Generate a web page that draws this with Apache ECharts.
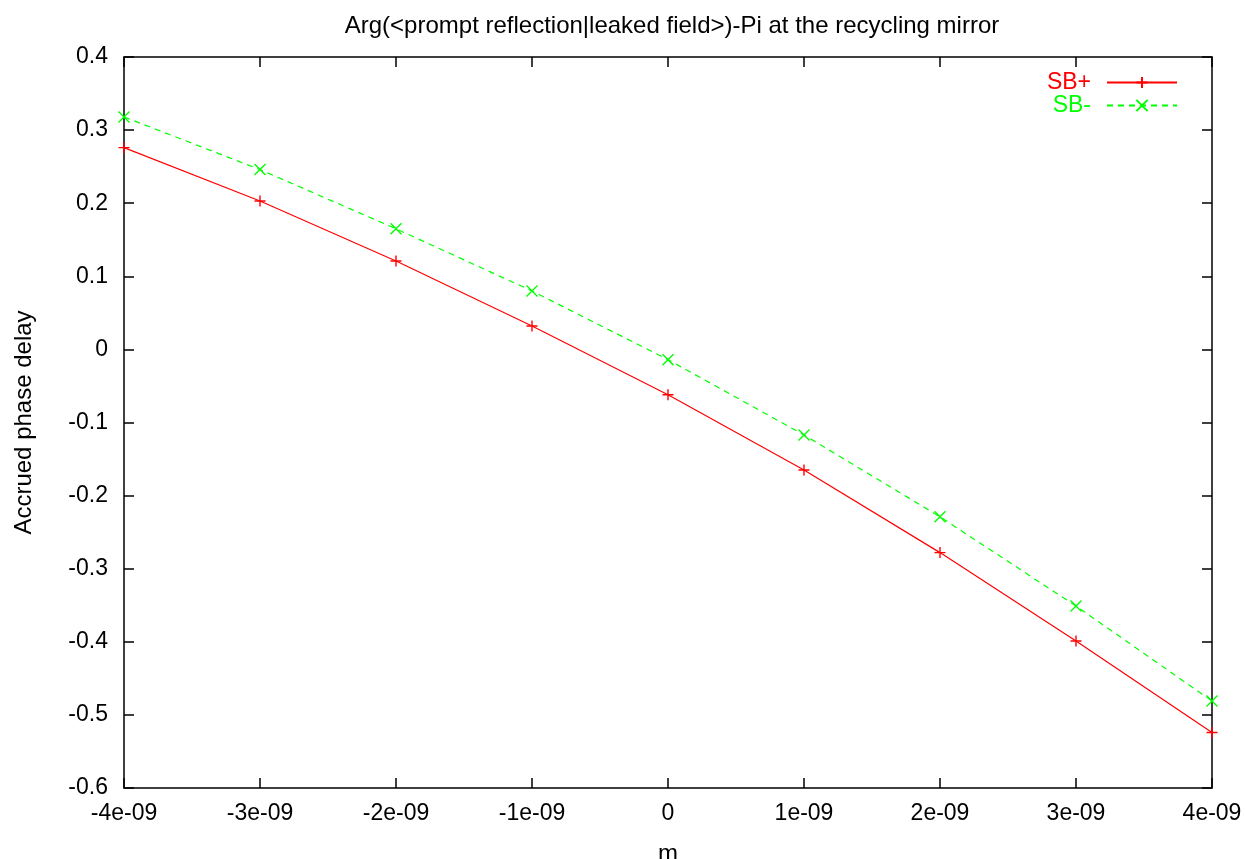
<!DOCTYPE html>
<html>
<head>
<meta charset="utf-8">
<script src="https://cdn.jsdelivr.net/npm/echarts@6/dist/echarts.min.js"></script>
<style>
html,body{margin:0;padding:0;background:#fff;}
#chart{width:1245px;height:859px;}
</style>
</head>
<body>
<div id="chart"></div>
<script>
// x positions (m) and accrued phase for each sideband
var mValues = [-4e-9, -3e-9, -2e-9, -1e-9, 0, 1e-9, 2e-9, 3e-9, 4e-9];
var sbPlus  = [0.276, 0.203, 0.121, 0.032, -0.062, -0.165, -0.278, -0.399, -0.524];
var sbMinus = [0.318, 0.246, 0.165, 0.080, -0.014, -0.117, -0.229, -0.351, -0.481];
var seriesNames = ['SB+', 'SB-'];
var seriesColors = ['#ff0000', '#00ff00'];

var FONT = "'Liberation Sans', Arial, sans-serif";
var plusIcon = 'path://M0,5L10,5M5,0L5,10';
var crossIcon = 'path://M0,0L10,10M0,10L10,0';

function pairs(xs, ys) {
	var out = [];
	for (var i = 0; i < xs.length; i++) out.push([xs[i], ys[i]]);
	return out;
}
function fmtX(v) {
	var n = Math.round(v * 1e9);
	if (n === 0) return '0';
	return n + 'e-09';
}
function fmtY(v) {
	var r = Math.round(v * 10) / 10;
	return r === 0 ? '0' : String(r);
}

var axisLine = { show: true, onZero: false, lineStyle: { color: '#000', width: 1.5 } };
var tick = { show: true, inside: true, length: 10, lineStyle: { color: '#000', width: 1.5 } };

var myChart = echarts.init(document.getElementById('chart'));
var option = {
	animation: false,
	backgroundColor: '#fff',
	title: {
		text: 'Arg(<prompt reflection|leaked field>)-Pi at the recycling mirror',
		left: 667,
		textAlign: 'center',
		top: 9,
		textStyle: { fontFamily: FONT, fontSize: 24, fontWeight: 'normal', color: '#000' }
	},
	legend: {
		orient: 'vertical',
		right: 62,
		top: 66,
		align: 'right',
		itemWidth: 70,
		itemHeight: 14,
		itemGap: 0,
		data: [
			{ name: seriesNames[0], textStyle: { color: seriesColors[0] } },
			{ name: seriesNames[1], textStyle: { color: seriesColors[1] } }
		],
		textStyle: { fontFamily: FONT, fontSize: 23, lineHeight: 22, padding: [0, 11, 0, 0] }
	},
	grid: { left: 124, right: 33, top: 57, bottom: 71, outerBoundsMode: 'none', containLabel: false },
	xAxis: [{
		type: 'value',
		min: -4e-9, max: 4e-9, interval: 1e-9,
		name: 'm', nameLocation: 'middle', nameGap: 54,
		nameTextStyle: { fontFamily: FONT, fontSize: 24, color: '#000' },
		axisLine: axisLine, axisTick: tick,
		splitLine: { show: false },
		axisLabel: { fontFamily: FONT, fontSize: 23, color: '#000', margin: 14, formatter: fmtX }
	}, {
		type: 'value', position: 'top',
		min: -4e-9, max: 4e-9, interval: 1e-9,
		axisLine: axisLine, axisTick: tick,
		splitLine: { show: false }, axisLabel: { show: false }
	}],
	yAxis: [{
		type: 'value',
		min: -0.6, max: 0.4, interval: 0.1,
		name: 'Accrued phase delay', nameLocation: 'middle', nameGap: 88,
		nameTextStyle: { fontFamily: FONT, fontSize: 24, color: '#000' },
		axisLine: axisLine, axisTick: tick,
		splitLine: { show: false },
		axisLabel: { fontFamily: FONT, fontSize: 23, color: '#000', margin: 16, formatter: fmtY }
	}, {
		type: 'value', position: 'right',
		min: -0.6, max: 0.4, interval: 0.1,
		axisLine: axisLine, axisTick: tick,
		splitLine: { show: false }, axisLabel: { show: false }
	}],
	series: [{
		name: seriesNames[0],
		type: 'line',
		xAxisIndex: 0, yAxisIndex: 0,
		data: pairs(mValues, sbPlus),
		color: seriesColors[0],
		symbol: plusIcon,
		symbolSize: 11,
		showAllSymbol: true,
		lineStyle: { color: seriesColors[0], width: 1.2 },
		itemStyle: { color: seriesColors[0], borderColor: seriesColors[0], borderWidth: 1.4 }
	}, {
		name: seriesNames[1],
		type: 'line',
		xAxisIndex: 0, yAxisIndex: 0,
		data: pairs(mValues, sbMinus),
		color: seriesColors[1],
		symbol: crossIcon,
		symbolSize: 11,
		showAllSymbol: true,
		lineStyle: { color: seriesColors[1], width: 1.2, type: [6, 5] },
		itemStyle: { color: seriesColors[1], borderColor: seriesColors[1], borderWidth: 1.4 }
	}]
};
myChart.setOption(option);
</script>
</body>
</html>
